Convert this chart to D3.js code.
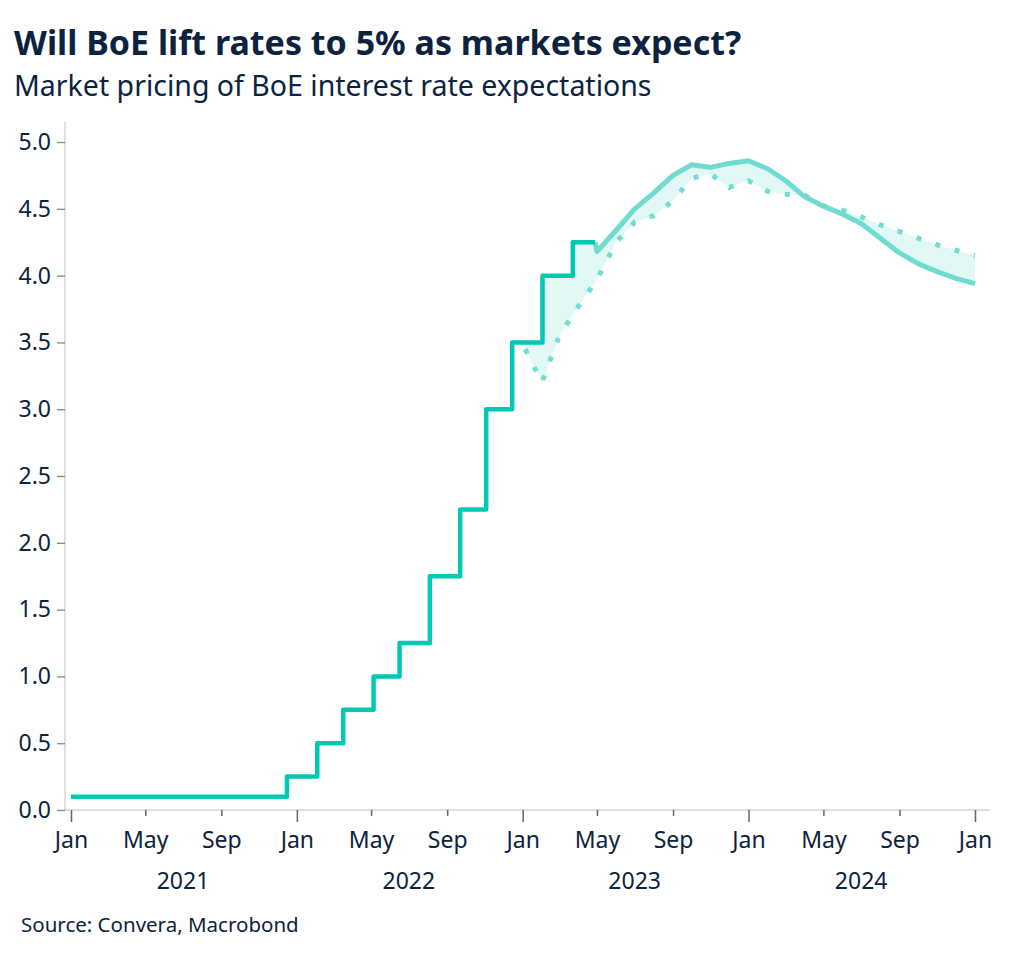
<!DOCTYPE html>
<html>
<head>
<meta charset="utf-8">
<script src="https://cdn.jsdelivr.net/npm/d3@7"></script>
<style>
  body { margin: 0; background: #fff; }
  text { font-family: "Noto Sans", "Open Sans", sans-serif; }
</style>
</head>
<body>
<script>
var W = 1024, H = 958;

// Bank Rate decisions (step line)
var rateDates = ["2021-01-01", "2021-12-16", "2022-02-03", "2022-03-17", "2022-05-05", "2022-06-16",
  "2022-08-04", "2022-09-22", "2022-11-03", "2022-12-15", "2023-02-02", "2023-03-23", "2023-04-28"];
var rateValues = [0.1, 0.25, 0.5, 0.75, 1.0, 1.25, 1.75, 2.25, 3.0, 3.5, 4.0, 4.25, 4.25];

// current market pricing (solid)
var nowDates = ["2023-04-28", "2023-05-01", "2023-06-01", "2023-07-01", "2023-08-01", "2023-09-01", "2023-10-01",
  "2023-11-01", "2023-12-01", "2024-01-01", "2024-02-01", "2024-03-01", "2024-04-01", "2024-05-01",
  "2024-06-01", "2024-07-01", "2024-08-01", "2024-09-01", "2024-10-01", "2024-11-01", "2024-12-01", "2025-01-01"];
var nowValues = [4.25, 4.18, 4.34, 4.5, 4.62, 4.75, 4.83, 4.81, 4.84, 4.86, 4.8, 4.71, 4.59, 4.52,
  4.46, 4.39, 4.28, 4.17, 4.09, 4.03, 3.98, 3.94];

// earlier market pricing (dotted)
var prevDates = ["2023-01-05", "2023-02-01", "2023-03-01", "2023-04-01", "2023-05-01", "2023-06-01", "2023-07-01",
  "2023-08-01", "2023-09-01", "2023-10-01", "2023-11-01", "2023-12-01", "2024-01-01", "2024-02-01",
  "2024-03-01", "2024-04-01", "2024-05-01", "2024-06-01", "2024-07-01", "2024-08-01", "2024-09-01",
  "2024-10-01", "2024-11-01", "2024-12-01", "2025-01-01"];
var prevValues = [3.45, 3.2, 3.55, 3.77, 3.97, 4.25, 4.4, 4.45, 4.56, 4.73, 4.76, 4.66, 4.71, 4.63,
  4.61, 4.6, 4.52, 4.49, 4.44, 4.38, 4.33, 4.28, 4.23, 4.19, 4.15];

var yTicks = [0, 0.5, 1, 1.5, 2, 2.5, 3, 3.5, 4, 4.5, 5];
var years = [2021, 2022, 2023, 2024];

var parse = d3.timeParse("%Y-%m-%d");
var navy = "#0c2340";

var svg = d3.select("body").append("svg")
  .attr("width", W)
  .attr("height", H);

svg.append("text")
  .attr("x", 14).attr("y", 55)
  .attr("font-size", 34).attr("font-weight", "bold")
  .attr("fill", navy)
  .text("Will BoE lift rates to 5% as markets expect?");

svg.append("text")
  .attr("x", 14).attr("y", 96)
  .attr("font-size", 28.5)
  .attr("fill", navy)
  .text("Market pricing of BoE interest rate expectations");

svg.append("text")
  .attr("x", 21).attr("y", 932)
  .attr("font-size", 20.5)
  .attr("fill", navy)
  .text("Source: Convera, Macrobond");

var x = d3.scaleTime()
  .domain([parse("2021-01-01"), parse("2025-01-01")])
  .range([71, 975]);

var y = d3.scaleLinear()
  .domain([0, 5.15])
  .range([810, 122]);

// axis lines
svg.append("line")
  .attr("x1", 65).attr("x2", 65)
  .attr("y1", y(5.15)).attr("y2", y(0))
  .attr("stroke", "#d6d6d6").attr("stroke-width", 1.5);
svg.append("line")
  .attr("x1", 65).attr("x2", 990)
  .attr("y1", y(0)).attr("y2", y(0))
  .attr("stroke", "#d6d6d6").attr("stroke-width", 1.5);

// y axis
var yAxis = svg.append("g")
  .attr("transform", "translate(65,0)")
  .call(d3.axisLeft(y).tickValues(yTicks).tickFormat(d3.format(".1f")).tickSize(8).tickSizeOuter(0).tickPadding(6));
yAxis.select(".domain").remove();
yAxis.selectAll(".tick line").attr("stroke", "#888").attr("stroke-width", 1.3);
yAxis.selectAll(".tick text")
  .attr("font-size", 23).attr("fill", navy)
  .attr("font-family", "Noto Sans, sans-serif");

// x axis
var months = [];
years.concat([2025]).forEach(function(yr) {
  [0, 4, 8].forEach(function(m) {
    if (yr < 2025 || m == 0) months.push(new Date(yr, m, 1));
  });
});
var xAxis = svg.append("g")
  .attr("transform", "translate(0," + y(0) + ")")
  .call(d3.axisBottom(x).tickValues(months).tickFormat(d3.timeFormat("%b")).tickSize(6).tickSizeOuter(0).tickPadding(16));
xAxis.select(".domain").remove();
xAxis.selectAll(".tick line")
  .attr("stroke", "#666").attr("stroke-width", 1.5)
  .attr("y2", function(d) { return d.getMonth() == 0 ? 12 : 6; });
xAxis.selectAll(".tick text")
  .attr("font-size", 23).attr("fill", navy)
  .attr("font-family", "Noto Sans, sans-serif");

svg.selectAll(".year")
  .data(years)
  .enter().append("text")
  .attr("class", "year")
  .attr("x", function(d) { return x(new Date(d, 6, 1)); })
  .attr("y", 889)
  .attr("text-anchor", "middle")
  .attr("font-size", 23).attr("fill", navy)
  .text(function(d) { return d; });

var rate = rateDates.map(function(d, i) { return { date: parse(d), v: rateValues[i] }; });
var now = nowDates.map(function(d, i) { return { date: parse(d), v: nowValues[i] }; });
var prev = prevDates.map(function(d, i) { return { date: parse(d), v: prevValues[i] }; });

// shaded gap: upper path = step line (from start of earlier pricing) + current pricing, back along earlier pricing
var startDate = prev[0].date;
var upper = [{ date: startDate, v: 3.5 }];
for (var i = 1; i < rate.length; i++) {
  if (rate[i].date > startDate) {
    upper.push({ date: rate[i].date, v: rate[i - 1].v });
    upper.push({ date: rate[i].date, v: rate[i].v });
  }
}
upper = upper.concat(now.slice(1));
var poly = upper.concat(prev.slice().reverse());

var lineFn = d3.line()
  .x(function(d) { return x(d.date); })
  .y(function(d) { return y(d.v); });

svg.append("path")
  .attr("d", lineFn(poly) + "Z")
  .attr("fill", "#e2f8f5")
  .attr("stroke", "none");

svg.append("path")
  .attr("d", lineFn(prev))
  .attr("fill", "none")
  .attr("stroke", "#74ddd0")
  .attr("stroke-width", 5)
  .attr("stroke-dasharray", "5,15");

svg.append("path")
  .attr("d", lineFn(now))
  .attr("fill", "none")
  .attr("stroke", "#6fdccf")
  .attr("stroke-width", 5)
  .attr("stroke-linejoin", "round");

svg.append("path")
  .attr("d", lineFn.curve(d3.curveStepAfter)(rate))
  .attr("fill", "none")
  .attr("stroke", "#00c8b2")
  .attr("stroke-width", 4.5)
  .attr("stroke-linejoin", "round");
</script>
</body>
</html>
